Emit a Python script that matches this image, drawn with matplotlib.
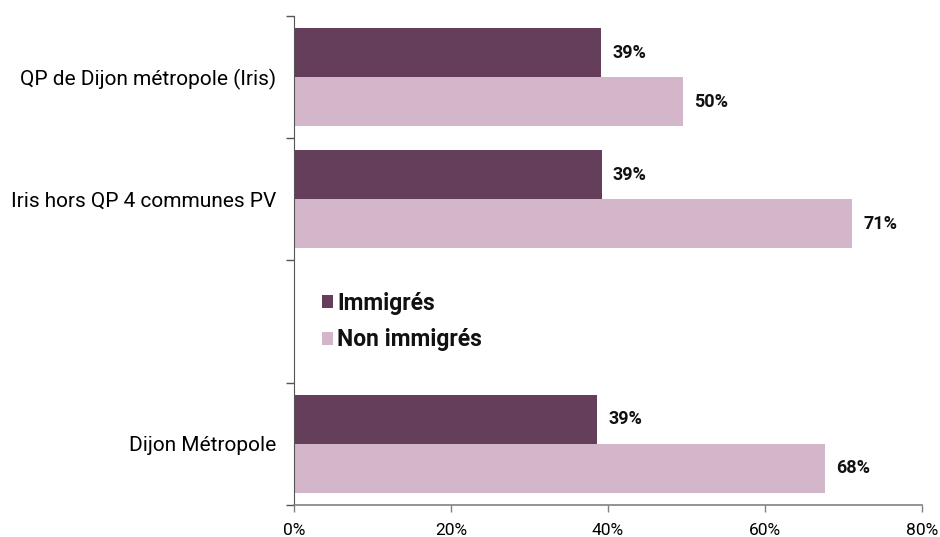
import matplotlib
matplotlib.use("Agg")
import matplotlib.pyplot as plt
import numpy as np

plt.rcParams['font.family'] = ['Roboto', 'DejaVu Sans']

# Category rows, top to bottom (the third row is left empty for the legend)
categories = ["QP de Dijon métropole (Iris)", "Iris hors QP 4 communes PV", "", "Dijon Métropole"]
series_names = ["Immigrés", "Non immigrés"]
immigres = [39.1, 39.2, np.nan, 38.6]
non_immigres = [49.5, 71.1, np.nan, 67.6]
x_ticks = [0, 20, 40, 60, 80]
x_tick_labels = ["0%", "20%", "40%", "60%", "80%"]

dark = "#643E5A"
light = "#D3B6C9"
axis_grey = "#808080"

fig = plt.figure(figsize=(9.40, 5.37), dpi=100)
ax = fig.add_axes([0.3128, 0.0596, 0.6681, 0.9106])

y = np.arange(len(categories))
h = 0.4
b1 = ax.barh(y - h / 2, immigres, height=h, color=dark, label=series_names[0])
b2 = ax.barh(y + h / 2, non_immigres, height=h, color=light, label=series_names[1])

for bars, vals in ((b1, immigres), (b2, non_immigres)):
    for rect, v in zip(bars, vals):
        if np.isnan(v):
            continue
        ax.annotate(f"{v:.0f}%", xy=(v, rect.get_y() + rect.get_height() / 2),
                    xytext=(8, 0), textcoords="offset points",
                    ha="left", va="center", fontsize=13, fontweight="bold",
                    color="#111111")

ax.set_xlim(0, 80)
ax.set_ylim(len(categories) - 0.5, -0.5)

ax.set_xticks(x_ticks)
ax.set_xticklabels(x_tick_labels, fontsize=12.5)
ax.tick_params(axis="x", direction="out", length=5, width=1, color=axis_grey, pad=8)

# separators between category slots on the left axis, labels centred in each slot
ax.set_yticks(np.arange(-0.5, len(categories), 1.0))
ax.set_yticklabels([])
ax.set_yticks(y, minor=True)
ax.set_yticklabels(categories, minor=True, fontsize=15)
ax.tick_params(axis="y", which="major", direction="out", length=6, width=1, color="#555555")
ax.tick_params(axis="y", which="minor", length=0, pad=13)

for side in ("top", "right"):
    ax.spines[side].set_visible(False)
ax.spines["left"].set_color("#555555")
ax.spines["bottom"].set_color(axis_grey)
ax.spines["bottom"].set_linewidth(1.2)

leg = ax.legend(handles=[b1, b2], loc="center left", bbox_to_anchor=(0.044, 0.375),
                frameon=False, fontsize=16.5, handlelength=0.5, handleheight=0.5,
                handletextpad=0.17, labelspacing=0.6, borderpad=0, borderaxespad=0)
for t in leg.get_texts():
    t.set_fontweight("bold")
    t.set_color("#111111")

fig.savefig("out.png", dpi=100)
